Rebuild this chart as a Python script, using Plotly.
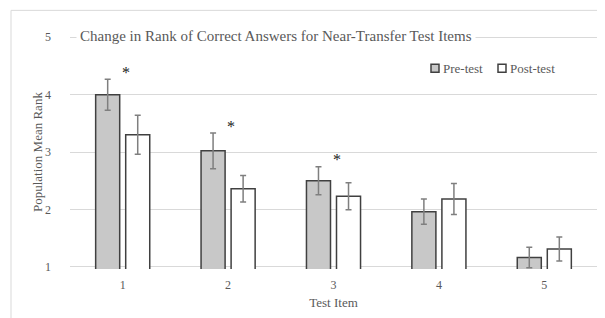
import plotly.graph_objects as go

# ---- data ----
items = [1, 2, 3, 4, 5]
item_labels = ["1", "2", "3", "4", "5"]
pre_test = [4.00, 3.02, 2.50, 1.96, 1.16]
pre_err = [0.27, 0.31, 0.245, 0.22, 0.18]
post_test = [3.30, 2.36, 2.23, 2.18, 1.31]
post_err = [0.34, 0.23, 0.235, 0.27, 0.21]
significant = [1, 2, 3]  # items marked with an asterisk
y_ticks = [1, 2, 3, 4, 5]

FONT = "Liberation Serif"
TXT = "#595959"
EDGE = "#404040"
PRE_FILL = "#c8c8c8"

fig = go.Figure()
fig.add_trace(go.Bar(
    x=items, y=pre_test, name="Pre-test",
    marker=dict(color=PRE_FILL, line=dict(color=EDGE, width=1.5)),
    error_y=dict(type="data", array=pre_err, color="#7f7f7f", thickness=1.5, width=3),
    showlegend=False,
))
fig.add_trace(go.Bar(
    x=items, y=post_test, name="Post-test",
    marker=dict(color="white", line=dict(color=EDGE, width=1.5)),
    error_y=dict(type="data", array=post_err, color="#7f7f7f", thickness=1.5, width=3),
    showlegend=False,
))

# asterisks above significant items
for it in significant:
    i = items.index(it)
    fig.add_annotation(x=it + 0.03, y=pre_test[i] + pre_err[i] + 0.12, text="*",
                       showarrow=False, xref="x", yref="y",
                       font=dict(family=FONT, size=16, color="#1a1a1a"))

OFF = 8  # page body margin
W, H = 605, 318
Y0, Y1 = 1, 5
EXT = 0.04  # small range extension so the 1 and 5 gridlines are drawn
# value 1 at page y 267, value 5 at page y 37, x from 70 to 597
unit = (267 - 37) / (Y1 - Y0)
L = 70 - OFF
T = 37 - OFF - EXT * unit
R = W - (597 - OFF)
B = H - (267 - OFF) - EXT * unit
pw, ph = W - L - R, H - T - B

def px(x):
    return (x - OFF - L) / pw

def py(y):
    return (H - B - (y - OFF)) / ph

# chart frame (left and top edges)
fig.add_shape(type="line", xref="paper", yref="paper", x0=px(11), x1=px(11), y0=py(10), y1=py(340),
              line=dict(color="#d9d9d9", width=1))
fig.add_shape(type="line", xref="paper", yref="paper", x0=px(11), x1=px(640), y0=py(10), y1=py(10),
              line=dict(color="#d9d9d9", width=1))

# title with white background over the top gridline
fig.add_annotation(text="Change in Rank of Correct Answers for Near-Transfer Test Items",
                   xref="paper", yref="paper", x=px(276), y=py(36), xanchor="center", yanchor="middle",
                   showarrow=False, bgcolor="white", borderpad=3,
                   font=dict(family=FONT, size=15, color=TXT))

# y-axis title
fig.add_annotation(text="Population Mean Rank", xref="paper", yref="paper", x=px(37), y=py(152),
                   xanchor="center", yanchor="middle", textangle=-90, showarrow=False,
                   font=dict(family=FONT, size=13, color=TXT))

# manual legend
for sx, fill, label in [(431, PRE_FILL, "Pre-test"), (498, "white", "Post-test")]:
    fig.add_shape(type="rect", xref="paper", yref="paper", x0=px(sx), x1=px(sx + 8), y0=py(72), y1=py(64),
                  fillcolor=fill, line=dict(color=EDGE, width=1.5))
    fig.add_annotation(text=label, xref="paper", yref="paper", x=px(sx + 10), y=py(68),
                       xanchor="left", yanchor="middle", showarrow=False,
                       font=dict(family=FONT, size=13, color=TXT))

fig.update_layout(
    width=W, height=H,
    margin=dict(l=L, r=R, t=T, b=B, pad=0),
    paper_bgcolor="white", plot_bgcolor="white",
    barmode="group", bargap=0.43, bargroupgap=0.2,
    font=dict(family=FONT, color=TXT, size=12),
    xaxis=dict(tickvals=items, ticktext=item_labels, range=[0.5, 5.5], showgrid=False,
               zeroline=False, showline=False, ticks="", ticklabelstandoff=7,
               title=dict(text="Test Item", font=dict(family=FONT, size=13, color=TXT), standoff=6),
               tickfont=dict(family=FONT, size=12, color=TXT)),
    yaxis=dict(range=[Y0 - EXT, Y1 + EXT], tickvals=y_ticks, showgrid=True, gridcolor="#d9d9d9",
               gridwidth=1, zeroline=False, showline=False, ticks="", ticklabelstandoff=18,
               tickfont=dict(family=FONT, size=12, color=TXT)),
)

fig.write_html("out.html")
